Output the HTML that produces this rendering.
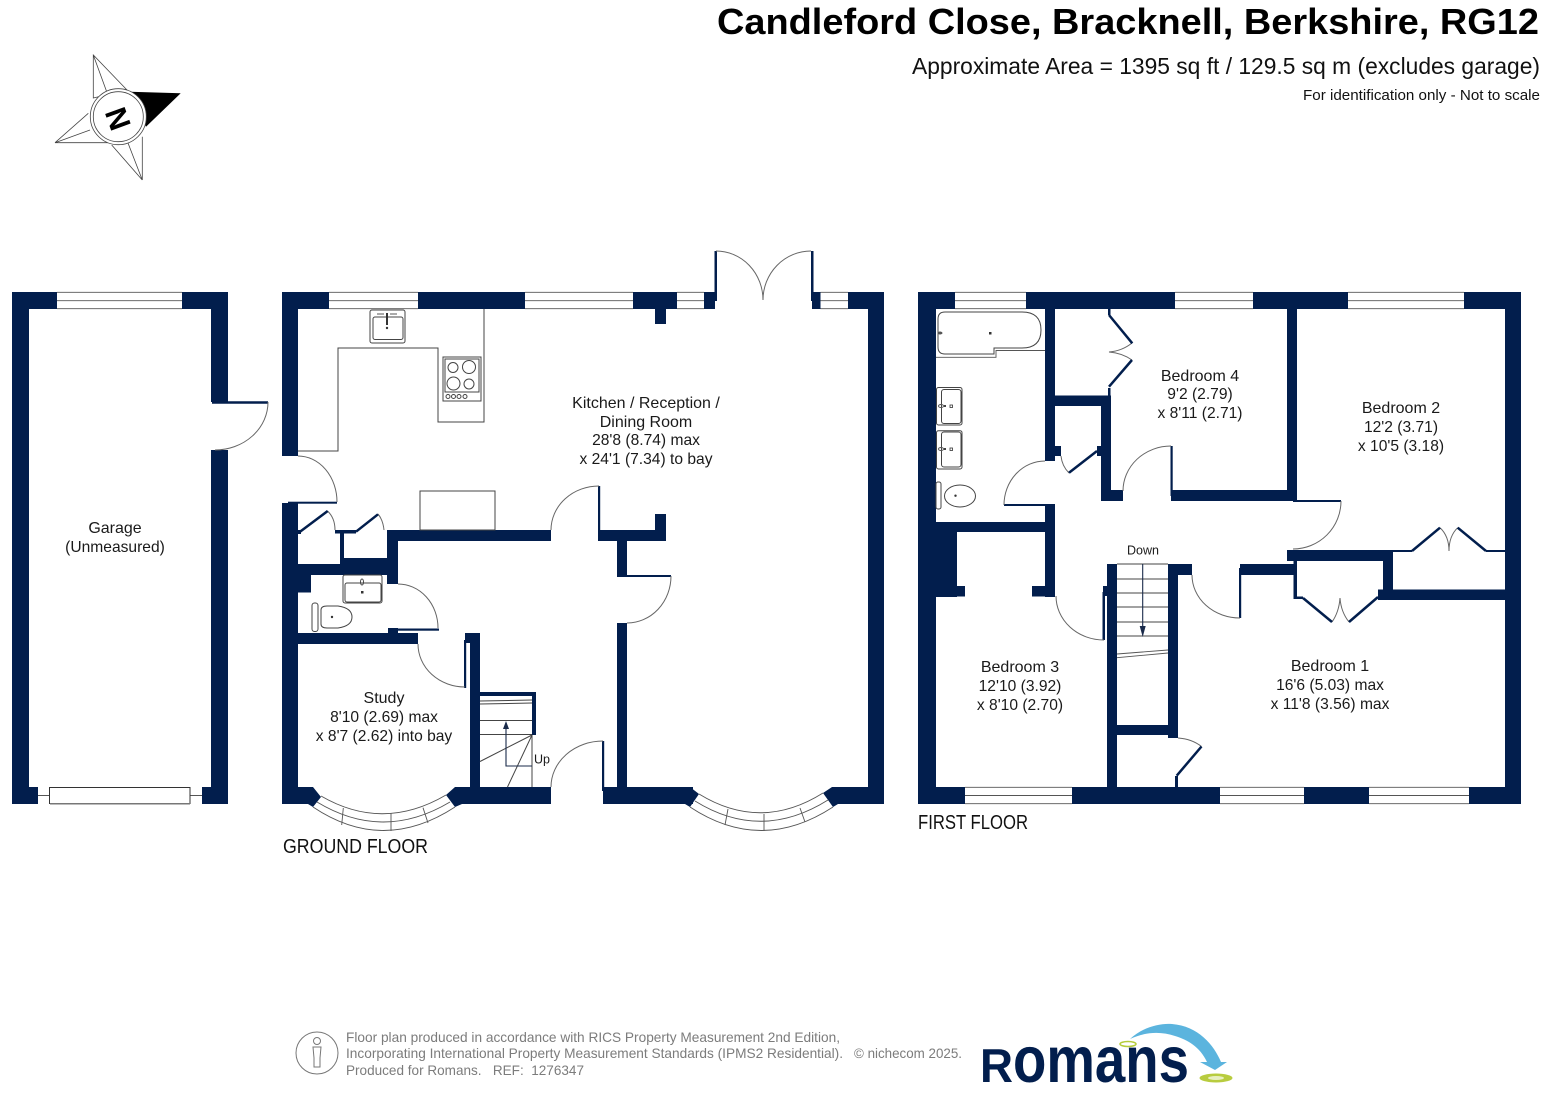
<!DOCTYPE html>
<html><head><meta charset="utf-8"><title>Candleford Close floor plan</title>
<style>
html,body{margin:0;padding:0;background:#fff}
svg{display:block}
text{font-family:"Liberation Sans",sans-serif}
.r text{font-size:16px;fill:#1a1a1a;text-anchor:middle}
.r text.d{font-size:15.6px}
.w{fill:#021e4d;stroke:none}
.t{fill:none;stroke:#021e4d;stroke-width:2.5}
.a{fill:none;stroke:#666;stroke-width:1}
.g{fill:none;stroke:#555;stroke-width:.9}
.k{fill:none;stroke:#444;stroke-width:1}
.f text{font-size:14px;fill:#7c7c7c}
</style></head><body>
<svg width="1544" height="1096" viewBox="0 0 1544 1096" xmlns="http://www.w3.org/2000/svg">
<rect width="1544" height="1096" fill="#fff"/>

<!-- Header -->
<text x="717" y="34" font-size="36" font-weight="bold" fill="#000" textLength="822" lengthAdjust="spacingAndGlyphs">Candleford Close, Bracknell, Berkshire, RG12</text>
<text x="912" y="74" font-size="23" fill="#111" textLength="628" lengthAdjust="spacingAndGlyphs">Approximate Area = 1395 sq ft / 129.5 sq m (excludes garage)</text>
<text x="1303" y="100" font-size="14.5" fill="#111" textLength="237" lengthAdjust="spacingAndGlyphs">For identification only - Not to scale</text>

<!-- Compass -->
<g fill="none" stroke="#444" stroke-width=".8">
<path d="M93.3 55V98L127 90ZM93.3 55L106.7 91.7"/>
<path d="M55 142.7L88.3 113.3M55 142.7H111M55 142.7L90 130"/>
<path d="M142.3 180V136.7M142.3 180L111.7 145M142.3 180L128 143"/>
</g>
<path d="M130 91.7L180.7 93.3L146 126.7Z" fill="#000"/>
<circle cx="118.3" cy="116.7" r="28" fill="#fff" stroke="#444" stroke-width=".8"/>
<circle cx="118.3" cy="116.7" r="25" fill="#fff" stroke="#444" stroke-width=".8"/>
<text transform="translate(118.5 118.5) rotate(70)" y="11" text-anchor="middle" font-size="30" font-weight="bold" fill="#000">N</text>

<!-- Garage -->
<g class="w">
<rect x="12" y="292" width="17" height="512"/>
<rect x="12" y="292" width="45" height="17"/>
<rect x="182" y="292" width="46" height="17"/>
<rect x="211" y="292" width="17" height="110"/>
<rect x="211" y="450" width="17" height="354"/>
<rect x="12" y="787" width="26" height="17"/>
<rect x="202" y="787" width="26" height="17"/>
</g>
<path class="g" d="M57 292.3H182M57 300.7H182M57 308.7H182"/>
<path class="g" d="M38 795.500H50M190 795.500H202"/>
<rect x="49.500" y="787.500" width="140.500" height="16" fill="#fff" stroke="#333"/>
<path d="M50 803.700H190" stroke="#777" stroke-width="1.500"/>
<path class="t" d="M212 402.500H268" stroke-width="1.600"/>
<path class="a" d="M268 402A53 48 0 0 1 215 450"/>

<!-- Ground floor walls -->
<g class="w">
<rect x="282" y="292" width="16" height="164"/>
<rect x="282" y="292" width="47" height="17"/>
<rect x="418" y="292" width="107" height="17"/>
<rect x="633" y="292" width="44" height="17"/>
<rect x="655" y="292" width="11" height="32"/>
<rect x="704" y="292" width="11" height="17"/>
<rect x="714.500" y="251" width="2.500" height="50"/>
<rect x="811" y="251" width="2.500" height="50"/>
<rect x="812" y="292" width="8.500" height="17"/>
<rect x="848" y="292" width="36" height="17"/>
<rect x="868" y="292" width="16" height="512"/>
<rect x="282" y="503" width="16" height="301"/>
<rect x="288" y="501.700" width="49" height="2"/>
<rect x="387" y="530" width="164" height="11"/>
<rect x="387" y="530" width="11" height="54"/>
<rect x="298" y="564" width="100" height="11"/>
<rect x="340" y="558" width="58" height="17"/>
<rect x="340" y="530" width="4" height="34"/>
<rect x="335" y="530" width="21" height="3.500"/>
<rect x="298" y="530" width="3" height="4"/>
<rect x="598" y="486" width="2.200" height="46"/>
<rect x="598" y="530" width="68" height="11"/>
<rect x="655" y="514" width="11" height="27"/>
<rect x="617" y="530" width="10" height="46"/>
<rect x="617" y="575" width="54" height="2"/>
<rect x="617" y="623" width="10" height="181"/>
<rect x="298" y="575" width="13" height="17.500"/>
<rect x="298" y="633" width="120" height="11"/>
<rect x="388" y="628" width="10" height="6"/>
<rect x="398" y="628.500" width="41" height="2.200"/>
<rect x="464" y="640" width="2.200" height="48"/>
<rect x="465" y="633" width="15" height="10"/>
<rect x="470" y="633" width="10" height="171"/>
<rect x="480" y="692" width="56" height="4"/>
<rect x="532" y="692" width="4" height="43"/>
<rect x="480" y="787" width="71" height="17"/>
<rect x="602" y="741" width="2.200" height="50"/>
<rect x="603" y="787" width="90" height="17"/>
<rect x="838" y="787" width="46" height="17"/>
<polygon points="282,787 313,787 321,797 313,807 308,804 282,804"/>
<polygon points="455,787 446,795 455,807 462,804 480,804 480,787"/>
<polygon points="690,787 699,794 690,807 685,804 660,804 660,787"/>
<polygon points="832,787 823,793 833,807 838,804 850,804 850,787"/>
</g>
<path class="g" d="M329 292.3H418M329 300.7H418M329 308.7H418M525 292.3H633M525 300.7H633M525 308.7H633M677 292.3H704M677 300.7H704M677 308.7H704M820.500 292.3H848M820.500 300.7H848M820.500 308.7H848"/>

<!-- Ground doors -->
<path class="a" d="M716 251A47 49 0 0 1 763 300M811 251A48 49 0 0 0 763 300"/>
<path class="a" d="M298 456A39 46 0 0 1 337 502"/>
<path class="a" d="M551 530A48 44 0 0 1 599 486"/>
<path class="a" d="M671 576A44 47 0 0 1 627 623"/>
<path class="a" d="M398 584A40 44 0 0 1 438 628"/>
<path class="a" d="M418 644A47 43 0 0 0 465 687"/>
<path class="a" d="M551 787A52 46 0 0 1 603 741"/>
<path class="a" d="M327.500 511Q335 518 335 530M378 514Q383 520 384 530"/>
<path class="t" d="M300 531.700L327.700 511M356 531.700L378 514.300"/>

<!-- Bays -->
<g class="g">
<path d="M321 796Q383 832 446 795M317 802Q383 842 450 802M313 807Q383 854 455 807"/>
<path d="M343.300 808L341.700 825M391 813V831M423 807.700L428 823"/>
<path d="M699 794Q761 832 823 793M695 801Q761 842 828 800M690 807Q761 854 833 807"/>
<path d="M728 809L725 825M764 814V831M800 808L805 822"/>
</g>

<!-- Kitchen fittings -->
<path class="k" d="M484 309V422H438V348H338V451H298"/>
<rect x="420" y="491" width="75" height="39" class="k"/>
<rect x="370" y="310" width="35" height="33" rx="2" class="k"/>
<rect x="373" y="317" width="30" height="22.500" rx="2" class="k"/>
<path d="M387 313V325" stroke="#333" stroke-width="2"/>
<path d="M377 314H384M390 314H397" stroke="#555" stroke-width="1"/>
<circle cx="387" cy="328" r="1.200" fill="#333"/>
<rect x="443" y="357" width="38" height="44" class="k"/>
<rect x="445" y="359" width="34" height="33" class="k"/>
<g class="k">
<circle cx="453" cy="367.500" r="5"/><circle cx="469" cy="367" r="6.500"/>
<circle cx="453.500" cy="383.500" r="6.500"/><circle cx="469" cy="384" r="5"/>
<circle cx="448" cy="396.500" r="2"/><circle cx="453.500" cy="396.500" r="2"/><circle cx="459" cy="396.500" r="2"/><circle cx="465" cy="396.500" r="2"/>
</g>

<!-- WC -->
<rect x="343" y="575" width="39" height="28" rx="2" class="k"/>
<rect x="345" y="583" width="36" height="19" rx="2" class="k"/>
<ellipse cx="362" cy="582" rx="1.500" ry="3" fill="none" stroke="#444"/><rect x="361" y="591" width="2.500" height="2.500" fill="#333"/>
<rect x="312" y="603" width="6" height="28.500" rx="2.500" class="k"/>
<path class="k" d="M321 610Q321 606 327 606H338Q352 608 352 617Q352 626 338 628H327Q321 628 321 624Z"/>
<circle cx="332" cy="617" r="1.200" fill="#333"/>

<!-- Ground stairs -->
<g class="k" stroke-width=".9">
<path d="M480 701L532 700M480 704L532 703M480 720.500H532M480 734.500H532M532 735L480 761.500M532 735L507.500 787M532 735V787"/>
</g>
<path d="M506 728V766H532" fill="none" stroke="#1a2a4a" stroke-width="1.100"/>
<polygon points="506,721 503,729 509,729" fill="#1a2a4a"/>
<text x="534" y="763.500" font-size="12.500" fill="#1a1a1a">Up</text>

<!-- First floor walls -->
<g class="w">
<rect x="918" y="292" width="18" height="512"/>
<rect x="918" y="292" width="37" height="17"/>
<rect x="1026" y="292" width="149" height="17"/>
<rect x="1253" y="292" width="95" height="17"/>
<rect x="1464" y="292" width="57" height="17"/>
<rect x="1505" y="292" width="16" height="512"/>
<rect x="918" y="787" width="47" height="17"/>
<rect x="1072" y="787" width="148" height="17"/>
<rect x="1304" y="787" width="65" height="17"/>
<rect x="1469" y="787" width="52" height="17"/>
<rect x="1045" y="309" width="10" height="152"/>
<rect x="1055" y="446" width="6" height="10"/>
<rect x="1055" y="395.500" width="56" height="10.500"/>
<rect x="1101" y="395.500" width="10" height="105.500"/>
<rect x="1097" y="446" width="4" height="10"/>
<rect x="1101" y="490" width="22" height="11"/>
<rect x="1108" y="309" width="2.500" height="6"/>
<rect x="1108" y="388" width="2.500" height="8"/>
<rect x="1170.500" y="446" width="2.200" height="50"/>
<rect x="1171" y="490" width="126" height="11"/>
<rect x="1287" y="309" width="10" height="192"/>
<rect x="1293" y="500" width="48" height="2"/>
<rect x="1004" y="504" width="51" height="2"/>
<rect x="1045" y="505" width="10" height="92"/>
<rect x="936" y="522" width="119" height="10"/>
<rect x="936" y="522" width="21" height="75"/>
<rect x="936" y="586" width="29" height="10.500"/>
<rect x="1032" y="586" width="23" height="10.500"/>
<rect x="1102.500" y="592" width="2.500" height="48"/>
<rect x="1103" y="586" width="4" height="10"/>
<rect x="1107" y="564" width="10" height="240"/>
<rect x="1168" y="564" width="10" height="174"/>
<rect x="1168" y="564" width="24" height="11"/>
<rect x="1117" y="725" width="61" height="10"/>
<rect x="1175" y="776" width="3" height="11"/>
<rect x="1239" y="568" width="2.200" height="50"/>
<rect x="1240" y="564" width="57" height="11"/>
<rect x="1287" y="550" width="106" height="11"/>
<rect x="1293.500" y="560" width="3.500" height="39"/>
<rect x="1297" y="596.500" width="6" height="2.500"/>
<rect x="1383" y="550" width="10" height="50"/>
<rect x="1378" y="589.500" width="127" height="10.500"/>
<rect x="1393" y="550" width="19" height="2"/>
<rect x="1486" y="550" width="19" height="2"/>
</g>
<path class="g" d="M955 292.3H1026M955 300.7H1026M955 308.7H1026M1175 292.3H1253M1175 300.7H1253M1175 308.7H1253M1348 292.3H1464M1348 300.7H1464M1348 308.7H1464"/>
<path class="g" d="M965 787.3H1072M965 795.500H1072M965 803.700H1072M1220 787.3H1304M1220 795.500H1304M1220 803.700H1304M1369 787.3H1469M1369 795.500H1469M1369 803.700H1469"/>

<!-- First floor doors -->
<path class="a" d="M1045 461A41 44 0 0 0 1004 505"/>
<path class="a" d="M1123 491A48 45 0 0 1 1171 446"/>
<path class="a" d="M1341 501A48 48 0 0 1 1293 549"/>
<path class="a" d="M1192 575A48 43 0 0 0 1240 618"/>
<path class="a" d="M1056 596A48 44 0 0 0 1104 640"/>
<path class="a" d="M1178 738Q1192 739 1201.500 746.500"/>
<path class="a" d="M1132 343Q1122 351 1109 352Q1122 353 1132 360"/>
<path class="a" d="M1069 473Q1062 466 1061 456"/>
<path class="a" d="M1332 622Q1339 612 1340 598Q1341 612 1349 622"/>
<path class="a" d="M1440 527.700Q1449 536 1449 551Q1449 536 1457.700 527.700"/>
<path class="t" d="M1109 315L1132.300 343.300M1132 360L1109 386.700M1097 451L1069 472.700M1201.500 746.500L1176.700 775.700M1303 598L1332 622M1349 622L1378 597M1412 551L1440 527.700M1457.700 527.700L1486 551"/>

<!-- Bathroom fittings -->
<path class="k" d="M938 319Q938 312 945 312H1022Q1041 312 1041 330Q1041 348 1022 348H994V354H945Q938 354 938 347Z"/>
<path class="g" d="M936 357.300H996V350.500H1045" stroke-width="1.200"/>
<ellipse cx="940" cy="333" rx="2.500" ry="1.500" fill="#555"/><rect x="989" y="332" width="2.500" height="2.500" fill="#333"/>
<rect x="936.500" y="387.500" width="25.500" height="37.500" rx="2" class="k"/>
<rect x="941.500" y="389.500" width="19.500" height="34" rx="2.500" class="k"/>
<rect x="936.500" y="430.700" width="25.500" height="38.300" rx="2" class="k"/>
<rect x="941.500" y="432" width="19.500" height="35" rx="2.500" class="k"/>
<ellipse cx="941" cy="406" rx="2.500" ry="1.500" fill="none" stroke="#555"/><rect x="944" y="405" width="2" height="2" fill="#444"/><rect x="950" y="405" width="2.500" height="2.500" fill="none" stroke="#333" stroke-width=".8"/>
<ellipse cx="941" cy="449" rx="2.500" ry="1.500" fill="none" stroke="#555"/><rect x="944" y="448" width="2" height="2" fill="#444"/><rect x="950" y="448" width="2.500" height="2.500" fill="none" stroke="#333" stroke-width=".8"/>
<rect x="936" y="482" width="5" height="27" rx="2" class="k"/>
<ellipse cx="960" cy="496" rx="15.500" ry="11" fill="#fff" class="k"/>
<circle cx="955.500" cy="495.700" r="1.200" fill="#333"/>

<!-- First floor stairs -->
<path class="k" d="M1117 564H1168M1117 579H1168M1117 593H1168M1117 607H1168M1117 622H1168M1117 636H1168" stroke-width=".9"/>
<path class="g" d="M1117 654L1168 650M1117 657.700L1168 653"/>
<path d="M1142.700 564V630" stroke="#1a2a4a" stroke-width="1.100"/>
<polygon points="1142.700,637 1139.700,626 1145.700,626" fill="#1a2a4a"/>
<text x="1143" y="554.500" font-size="12.500" fill="#1a1a1a" text-anchor="middle">Down</text>

<!-- Room labels -->
<g class="r">
<text x="115" y="533">Garage</text><text x="115" y="552" class="d">(Unmeasured)</text>
<text x="646" y="408">Kitchen / Reception /</text><text x="646" y="427">Dining Room</text><text x="646" y="445" class="d">28'8 (8.74) max</text><text x="646" y="464" class="d">x 24'1 (7.34) to bay</text>
<text x="384" y="703">Study</text><text x="384" y="722" class="d">8'10 (2.69) max</text><text x="384" y="741" class="d">x 8'7 (2.62) into bay</text>
<text x="1200" y="381">Bedroom 4</text><text x="1200" y="399" class="d">9'2 (2.79)</text><text x="1200" y="418" class="d">x 8'11 (2.71)</text>
<text x="1401" y="413">Bedroom 2</text><text x="1401" y="432" class="d">12'2 (3.71)</text><text x="1401" y="451" class="d">x 10'5 (3.18)</text>
<text x="1020" y="672">Bedroom 3</text><text x="1020" y="691" class="d">12'10 (3.92)</text><text x="1020" y="710" class="d">x 8'10 (2.70)</text>
<text x="1330" y="671">Bedroom 1</text><text x="1330" y="690" class="d">16'6 (5.03) max</text><text x="1330" y="709" class="d">x 11'8 (3.56) max</text>
</g>
<text x="283" y="853" font-size="20" fill="#111" textLength="145" lengthAdjust="spacingAndGlyphs">GROUND FLOOR</text>
<text x="918" y="829" font-size="20" fill="#111" textLength="110" lengthAdjust="spacingAndGlyphs">FIRST FLOOR</text>

<!-- Footer -->
<circle cx="317" cy="1053" r="21" fill="none" stroke="#777" stroke-width="1"/>
<circle cx="317" cy="1041" r="3.500" fill="none" stroke="#777"/>
<path d="M313 1047H321L320 1058V1067H314V1058Z" fill="none" stroke="#777"/>
<g class="f">
<text x="346" y="1042" textLength="494" lengthAdjust="spacingAndGlyphs">Floor plan produced in accordance with RICS Property Measurement 2nd Edition,</text>
<text x="346" y="1058" textLength="497" lengthAdjust="spacingAndGlyphs">Incorporating International Property Measurement Standards (IPMS2 Residential).</text>
<text x="854" y="1058" textLength="108" lengthAdjust="spacingAndGlyphs">© nichecom 2025.</text>
<text x="346" y="1075" textLength="238" lengthAdjust="spacingAndGlyphs">Produced for Romans.&#160;&#160; REF:&#160; 1276347</text>
</g>

<!-- Logo -->
<text x="980" y="1082" font-size="47" font-weight="bold" fill="#021e4d" textLength="33" lengthAdjust="spacingAndGlyphs">R</text>
<text x="1013" y="1082" font-size="65" font-weight="bold" fill="#021e4d" textLength="176" lengthAdjust="spacingAndGlyphs">omans</text>
<path d="M1130 1039C1143 1027 1160 1023 1172 1024C1198 1026 1214 1045 1221 1062L1227 1062L1215 1070L1200 1062L1207 1062C1200 1047 1188 1040 1175 1036C1160 1031 1145 1032 1130 1039Z" fill="#5bb4de"/>
<ellipse cx="1128" cy="1044" rx="8" ry="2.500" fill="#fff" stroke="#b5cc3a" stroke-width="1.500"/>
<ellipse cx="1216" cy="1078" rx="16.500" ry="4.500" fill="#b8cc3f"/>
<ellipse cx="1216" cy="1078" rx="8" ry="2" fill="#e8efc0"/>
</svg>
</body></html>
